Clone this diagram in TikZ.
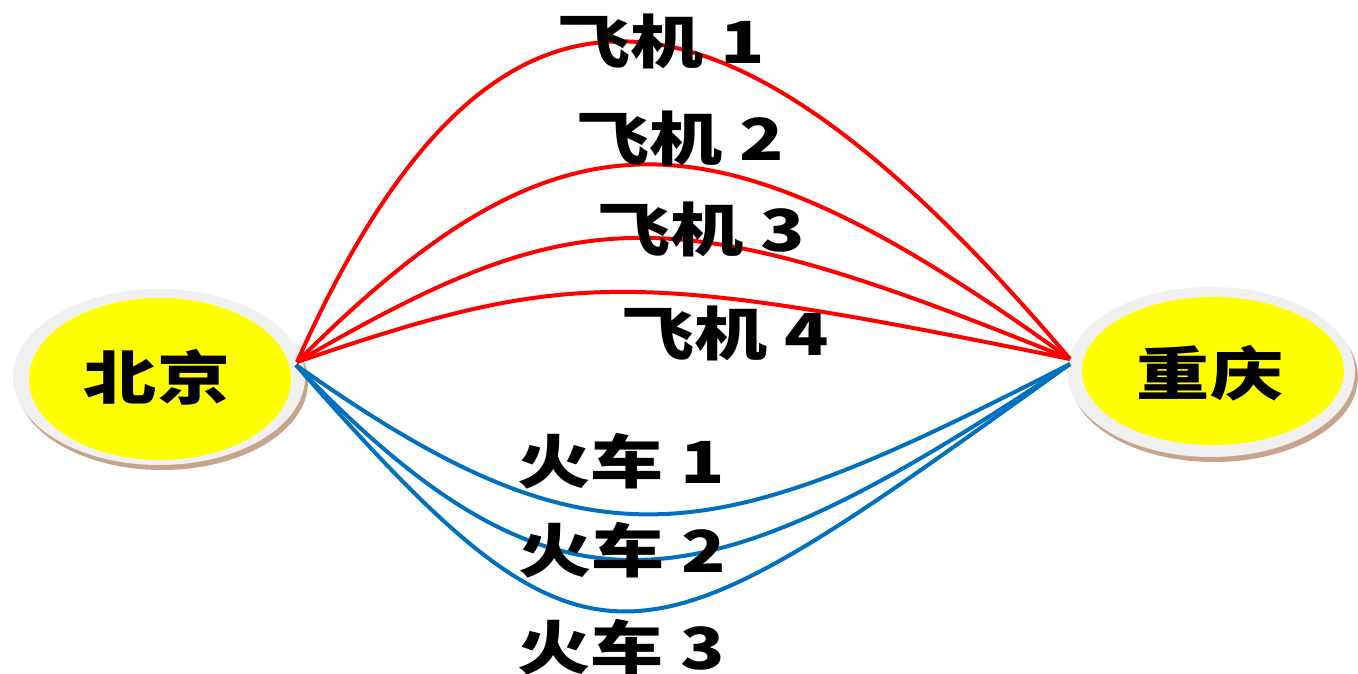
\documentclass[tikz,border=0pt]{standalone}
\usepackage{fontspec}
\newfontfamily\cjk{Noto Sans CJK SC}
\usetikzlibrary{shapes.geometric}
\definecolor{railblue}{HTML}{0070C0}
\definecolor{ringgray}{HTML}{F0F0F0}
\definecolor{shadowc}{HTML}{C9A48C}
\definecolor{cityyellow}{HTML}{FFFF00}
\begin{document}
\begin{tikzpicture}[x=1pt,y=-1pt,
  lbl/.style={font=\cjk\bfseries\fontsize{58}{58}\selectfont, xscale=1.26, inner sep=0pt, text=black},
  city/.style={ellipse, fill=cityyellow, inner sep=0pt},
  ringe/.style={ellipse, fill=ringgray, inner sep=0pt},
  shade/.style={ellipse, fill=shadowc, inner sep=0pt},
  air/.style={draw=red, line width=4pt},
  rail/.style={draw=railblue, line width=4pt}]
\useasboundingbox (0,0) rectangle (1358,674);
% Beijing
\node[shade, minimum width=292pt, minimum height=176pt] (bjs) at (162,382) {};
\node[ringe, minimum width=292pt, minimum height=176pt] (bjr) at (159,377) {};
\node[city, minimum width=262pt, minimum height=162pt] (bj) at (160,379) {};
\node[lbl] (bjt) at (157,377) {北京};
% Chongqing
\node[shade, minimum width=288pt, minimum height=170pt] (cqs) at (1214,377) {};
\node[ringe, minimum width=288pt, minimum height=170pt] (cqr) at (1211,372) {};
\node[city, minimum width=262pt, minimum height=148pt] (cq) at (1213,371) {};
\node[lbl] (cqt) at (1210,373) {重庆};
% junction points
\coordinate (bjA) at (297,362);
\coordinate (cqA) at (1070,359);
\coordinate (bjB) at (296,365);
\coordinate (cqB) at (1070,364);
% planes
\draw[air] (bjA) .. controls (490,-70) and (715,-60) .. (cqA);
\draw[air] (bjA) .. controls (560,99) and (710,99) .. (cqA);
\draw[air] (bjA) .. controls (580,197) and (671,197) .. (cqA);
\draw[air] (bjA) .. controls (570,269) and (628,269) .. (cqA);
% trains
\draw[rail] (bjB) .. controls (600,580) and (710,548) .. (cqB);
\draw[rail] (bjB) .. controls (560,640) and (700,610) .. (cqB);
\draw[rail] (bjB) .. controls (600,712) and (635,675) .. (cqB);
% labels
\node[lbl] (f1) at (661,41) {飞机 1};
\node[lbl] (f2) at (680,138) {飞机 2};
\node[lbl] (f3) at (701,229) {飞机 3};
\node[lbl] (f4) at (725,333) {飞机 4};
\node[lbl] (h1) at (621,461) {火车 1};
\node[lbl] (h2) at (622,550) {火车 2};
\node[lbl] (h3) at (621,647) {火车 3};
\end{tikzpicture}
\end{document}
